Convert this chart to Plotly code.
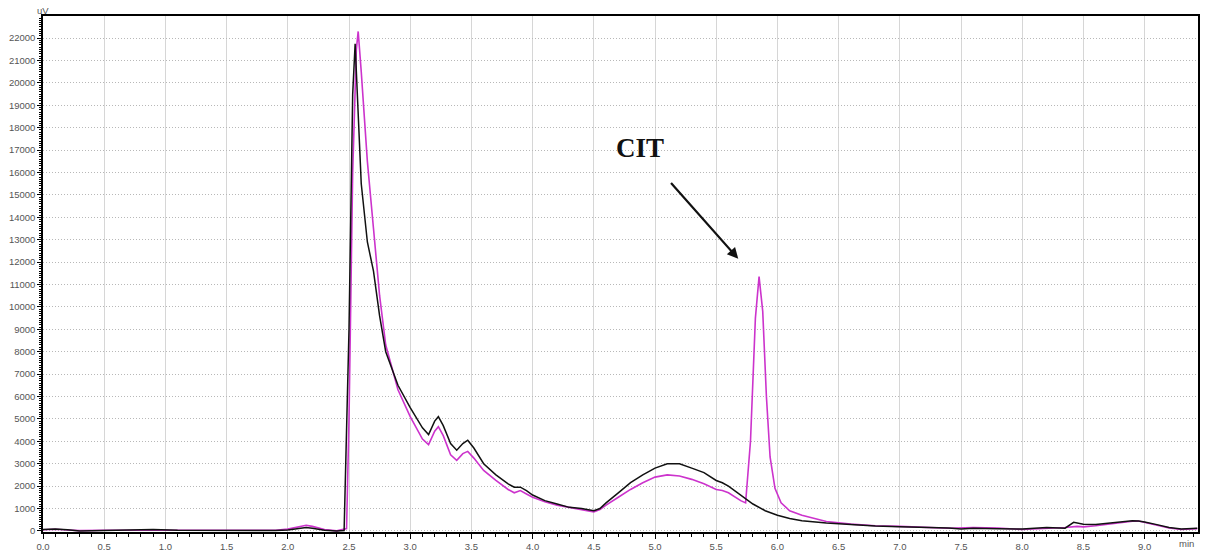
import plotly.graph_objects as go

# Black trace (sample) — time (min) and signal (uV)
black_t = [0.0, 0.1, 0.2, 0.3, 0.5, 0.7, 0.9, 1.1, 1.3, 1.5, 1.7, 1.9, 2.0, 2.1, 2.15, 2.2, 2.3, 2.4, 2.46,
           2.5, 2.53, 2.55, 2.57, 2.6, 2.65, 2.7, 2.75, 2.8, 2.9, 3.0, 3.1, 3.15, 3.2, 3.23, 3.27, 3.33, 3.38,
           3.43, 3.47, 3.52, 3.6, 3.7, 3.8, 3.85, 3.9, 3.95, 4.0, 4.1, 4.2, 4.3, 4.4, 4.5, 4.55, 4.6, 4.7,
           4.8, 4.9, 5.0, 5.1, 5.2, 5.3, 5.4, 5.5, 5.55, 5.6, 5.7, 5.8, 5.9, 6.0, 6.1, 6.2, 6.4, 6.6, 6.8,
           7.0, 7.2, 7.4, 7.5, 7.6, 7.8, 8.0, 8.2, 8.35, 8.42, 8.5, 8.6, 8.7, 8.8, 8.9, 8.95, 9.0, 9.1, 9.2,
           9.3, 9.43]
black_y = [60, 80, 50, 0, 20, 40, 60, 30, 20, 40, 30, 20, 40, 120, 150, 120, 30, 0, 20,
           9000, 19500, 21750, 19000, 15500, 12900, 11600, 9600, 8000, 6500, 5500, 4600, 4300, 4900, 5100, 4700, 3900, 3600,
           3900, 4050, 3700, 3000, 2500, 2100, 1950, 1950, 1800, 1600, 1350, 1200, 1050, 1000, 900, 1000, 1250, 1700,
           2150, 2500, 2800, 3000, 3000, 2800, 2600, 2250, 2150, 2000, 1600, 1200, 900, 700, 550, 450, 350, 280, 220,
           180, 160, 130, 80, 120, 100, 80, 150, 120, 380, 300, 280, 330, 380, 450, 440, 400, 280, 150,
           80, 120]

# Magenta trace (CIT standard)
mag_t = [0.0, 0.1, 0.2, 0.3, 0.5, 0.7, 0.9, 1.1, 1.3, 1.5, 1.7, 1.9, 2.0, 2.1, 2.15, 2.2, 2.3, 2.4, 2.48,
         2.5, 2.53, 2.56, 2.575, 2.6, 2.65, 2.7, 2.75, 2.8, 2.9, 3.0, 3.1, 3.15, 3.2, 3.23, 3.27, 3.33, 3.38,
         3.43, 3.47, 3.52, 3.6, 3.7, 3.8, 3.85, 3.9, 3.95, 4.0, 4.1, 4.2, 4.3, 4.4, 4.5, 4.55, 4.6, 4.7,
         4.8, 4.9, 5.0, 5.1, 5.2, 5.3, 5.4, 5.5, 5.55, 5.6, 5.7, 5.74, 5.78, 5.82, 5.85, 5.88, 5.91, 5.94,
         5.98, 6.03, 6.1, 6.2, 6.3, 6.4, 6.6, 6.8, 7.0, 7.2, 7.4, 7.6, 7.8, 8.0, 8.2, 8.35, 8.45, 8.5, 8.6,
         8.7, 8.8, 8.9, 8.95, 9.0, 9.1, 9.2, 9.3, 9.43]
mag_y = [50, 70, 40, 10, 30, 30, 50, 40, 30, 30, 40, 30, 80, 200, 250, 200, 60, 0, 100,
         5000, 16000, 21500, 22300, 20500, 16500, 13500, 10500, 8300, 6300, 5100, 4100, 3850, 4450, 4650, 4250, 3400, 3150,
         3450, 3550, 3250, 2700, 2250, 1850, 1700, 1800, 1650, 1500, 1300, 1150, 1050, 950, 850, 950, 1150, 1500,
         1850, 2150, 2400, 2500, 2450, 2300, 2100, 1850, 1800, 1700, 1350, 1250, 4000, 9500, 11350, 9800, 6000, 3300,
         1900, 1250, 900, 700, 550, 420, 300, 230, 200, 170, 120, 150, 130, 60, 100, 150, 200, 180, 230,
         300, 370, 430, 440, 380, 260, 130, 60, 100]

fig = go.Figure()
fig.add_trace(go.Scatter(x=mag_t, y=mag_y, mode="lines",
                         line=dict(color="#cc33cc", width=1.6), showlegend=False))
fig.add_trace(go.Scatter(x=black_t, y=black_y, mode="lines",
                         line=dict(color="#111111", width=1.5), showlegend=False))

tickfont = dict(family="Liberation Sans, Arial, sans-serif", size=9.5, color="#555555")

fig.update_xaxes(range=[0, 9.436], tickmode="linear", tick0=0, dtick=0.5, tickformat=".1f",
                 ticks="outside", ticklen=5, tickcolor="black", tickfont=tickfont, automargin=False,
                 showgrid=True, gridcolor="#d6d6d6", gridwidth=1,
                 showline=True, linecolor="black", linewidth=1.5, mirror=True, zeroline=False,
                 minor=dict(dtick=0.1, ticks="outside", ticklen=3, tickcolor="black", showgrid=False))
fig.update_yaxes(range=[-50, 22990], tickmode="linear", tick0=0, dtick=1000, tickformat="d",
                 ticks="outside", ticklen=4, tickcolor="black", tickfont=tickfont, automargin=False,
                 showgrid=True, gridcolor="#b8b8b8", griddash="1px,2px", gridwidth=1,
                 showline=True, linecolor="black", linewidth=1.5, mirror=True, zeroline=False,
                 minor=dict(dtick=100, ticks="outside", ticklen=2, tickcolor="black", showgrid=False))

fig.add_annotation(x=5.68, y=12150, ax=5.12, ay=15600, xref="x", yref="y", axref="x", ayref="y",
                   showarrow=True, arrowhead=2, arrowsize=1, arrowwidth=2.2, arrowcolor="#111111", text="")
fig.add_annotation(x=4.88, y=17100, xref="x", yref="y", text="<b>CIT</b>", showarrow=False,
                   font=dict(family="Liberation Serif, Times New Roman, serif", size=27, color="#111111"))
fig.add_annotation(x=0, y=1, xref="paper", yref="paper", text="uV", showarrow=False,
                   xanchor="center", yanchor="bottom", yshift=-2, font=tickfont)
fig.add_annotation(x=1, y=0, xref="paper", yref="paper", text="min", showarrow=False,
                   xanchor="right", yanchor="top", xshift=-2, yshift=-4, font=tickfont)

fig.update_layout(width=1216, height=553, margin=dict(l=43, r=18, t=16, b=21),
                  plot_bgcolor="white", paper_bgcolor="white")

fig.write_html("out.html")
